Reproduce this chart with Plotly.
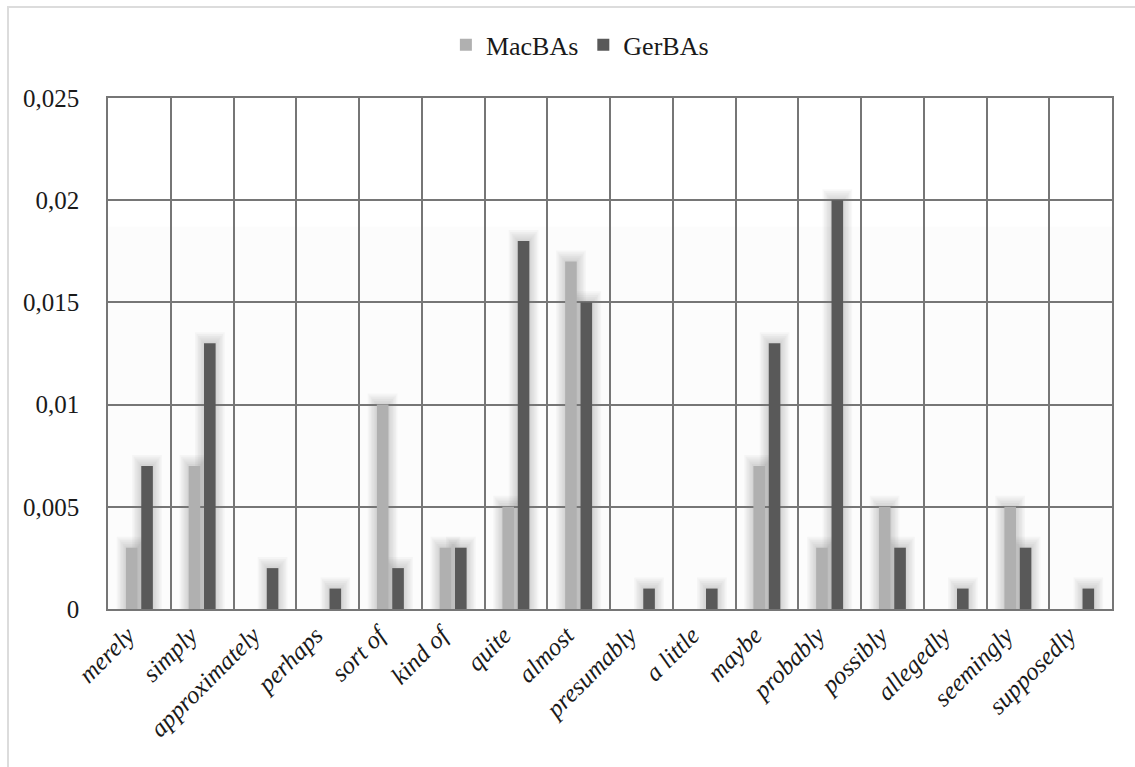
import plotly.graph_objects as go

# Hedge frequencies per adverb for the two learner corpora
categories = ["merely", "simply", "approximately", "perhaps", "sort of", "kind of",
              "quite", "almost", "presumably", "a little", "maybe", "probably",
              "possibly", "allegedly", "seemingly", "supposedly"]
macbas = [0.003, 0.007, 0.0, 0.0, 0.010, 0.003, 0.005, 0.017,
          0.0, 0.0, 0.007, 0.003, 0.005, 0.0, 0.005, 0.0]
gerbas = [0.007, 0.013, 0.002, 0.001, 0.002, 0.003, 0.018, 0.015,
          0.001, 0.001, 0.013, 0.020, 0.003, 0.001, 0.003, 0.001]

y_tickvals = [0, 0.005, 0.010, 0.015, 0.020, 0.025]
y_ticktext = ["0", "0,005", "0,01", "0,015", "0,02", "0,025"]

FONT = "Liberation Serif"
GRID = "#767676"
BAR_W = 0.185

series = [
    ("MacBAs", macbas, "#b0b0b0", -0.215),
    ("GerBAs", gerbas, "#595959", 0.03),
]

fig = go.Figure()

# soft glow behind each bar, built from translucent widening layers
for name, vals, color, off in series:
    for k in (6, 5, 4, 3, 2, 1):
        dx = k * 0.024
        dy = k * 0.00009
        fig.add_bar(
            x=categories,
            y=[v + dy if v > 0 else None for v in vals],
            offset=off - dx,
            width=BAR_W + 2 * dx,
            marker=dict(color="rgba(110,110,110,0.05)", line=dict(width=0)),
            showlegend=False,
            hoverinfo="skip",
        )

for name, vals, color, off in series:
    fig.add_bar(
        x=categories,
        y=vals,
        name=name,
        offset=off,
        width=BAR_W,
        marker=dict(color=color, line=dict(width=0)),
    )

fig.update_layout(
    width=1135,
    height=767,
    margin=dict(l=108, r=23, t=98, b=158),
    barmode="overlay",
    paper_bgcolor="white",
    plot_bgcolor="#fcfcfc",
    font=dict(family=FONT, size=26, color="#1a1a1a"),
    legend=dict(
        orientation="h",
        x=0.47, xanchor="center",
        y=1.104, yanchor="middle",
        font=dict(family=FONT, size=26, color="#1a1a1a"),
        bgcolor="rgba(0,0,0,0)",
    ),
    xaxis=dict(
        type="category",
        tickson="boundaries",
        showgrid=True,
        gridcolor=GRID,
        gridwidth=1.5,
        showline=True,
        mirror=True,
        linecolor=GRID,
        linewidth=1.5,
        ticks="",
        tickangle=-45,
        ticklabelshift=-12,
        tickfont=dict(family=FONT, size=25, style="italic", color="#1a1a1a"),
        range=[-0.5, len(categories) - 0.5],
    ),
    yaxis=dict(
        range=[0, 0.025],
        tickvals=y_tickvals,
        ticktext=y_ticktext,
        showgrid=True,
        gridcolor=GRID,
        gridwidth=1.5,
        showline=True,
        mirror=True,
        linecolor=GRID,
        linewidth=1.5,
        zeroline=False,
        ticks="",
        ticklabelstandoff=22,
        tickfont=dict(family=FONT, size=25, color="#1a1a1a"),
    ),
    shapes=[
        # white upper band of the plotting area
        dict(type="rect", xref="paper", yref="y", x0=0, x1=1, y0=0.0187, y1=0.025,
             fillcolor="white", line=dict(width=0), layer="below"),
        # outer frame of the chart
        dict(type="rect", xref="paper", yref="paper", x0=-0.0996, x1=1.04,
             y0=-0.33, y1=1.178, line=dict(color="#dcdcdc", width=2),
             fillcolor="rgba(0,0,0,0)", layer="below"),
    ],
)

fig.write_html("out.html")
